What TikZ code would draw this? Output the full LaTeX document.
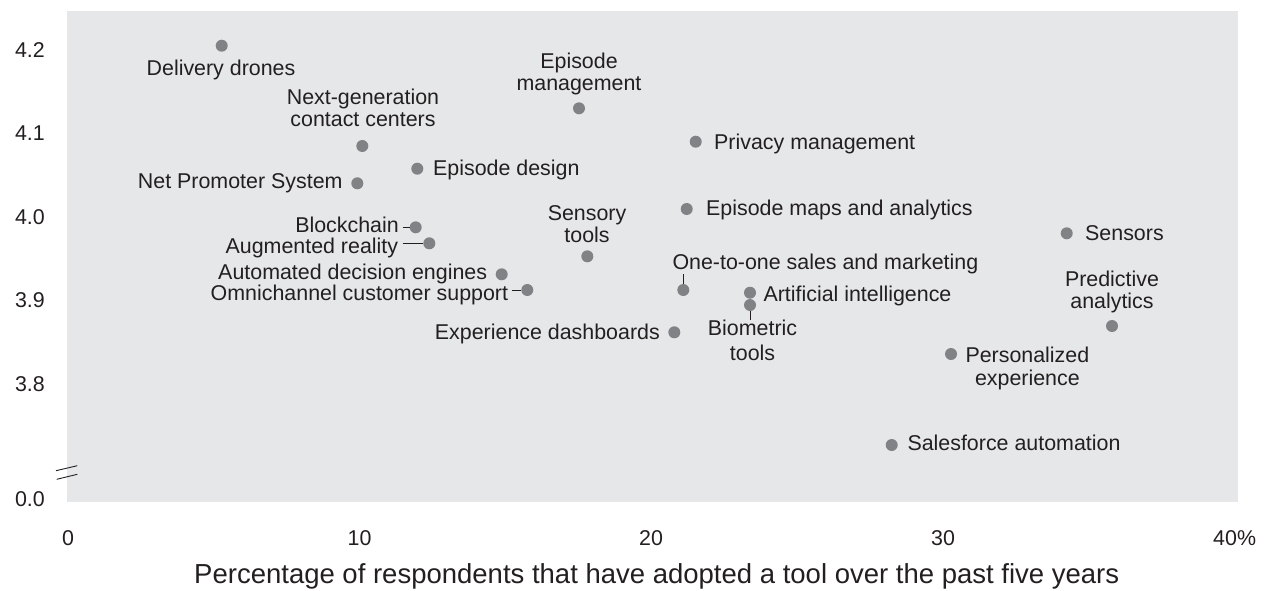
\documentclass[tikz,border=0pt]{standalone}
\usepackage{fontspec}
\setmainfont{Liberation Sans}
\definecolor{bgc}{HTML}{E6E7E8}
\definecolor{dotc}{HTML}{808285}
\definecolor{txtc}{HTML}{231F20}
\begin{document}
\begin{tikzpicture}[x=1pt,y=-1pt,
  dot/.style={circle,fill=dotc,minimum size=12pt,inner sep=0pt},
  lbl/.style={inner sep=0pt,text=txtc,font=\fontsize{21.4}{22}\selectfont},
  ml/.style={lbl,align=center},
  tick/.style={inner sep=0pt,text=txtc,font=\fontsize{21.4}{22}\selectfont},
  axtitle/.style={inner sep=0pt,text=txtc,font=\fontsize{27.5}{30}\selectfont},
  leader/.style={draw=txtc,line width=1pt},
  brk/.style={draw=txtc,line width=0.9pt}]
\useasboundingbox (0,0) rectangle (1265,590);
\fill[bgc] (67,11) rectangle (1238,502);
% axis break
\draw[brk] (56,470.7) -- (77.3,465.7);
\draw[brk] (56.7,479.3) -- (77.3,474.3);
% y ticks
\node[tick,anchor=base east] (y42) at (45,57) {4.2};
\node[tick,anchor=base east] (y41) at (45,140.5) {4.1};
\node[tick,anchor=base east] (y40) at (45,224) {4.0};
\node[tick,anchor=base east] (y39) at (45,307.5) {3.9};
\node[tick,anchor=base east] (y38) at (45,391) {3.8};
\node[tick,anchor=base east] (y00) at (45,506.5) {0.0};
% x ticks
\node[tick,anchor=base] (x0) at (68,545) {0};
\node[tick,anchor=base] (x10) at (359.5,545) {10};
\node[tick,anchor=base] (x20) at (651,545) {20};
\node[tick,anchor=base] (x30) at (943,545) {30};
\node[tick,anchor=base west] (x40) at (1213,545) {40\%};
\node[axtitle,anchor=base] (xt) at (656.7,583) {Percentage of respondents that have adopted a tool over the past five years};
% points and labels
\node[dot] (dd) at (221.7,45.7) {};
\node[lbl,anchor=base] (ddl) at (221,75) {Delivery drones};
\node[dot] (ng) at (362.3,146) {};
\node[ml,anchor=north] (ngl) at (363,88.3) {Next-generation\\contact centers};
\node[dot] (ed) at (417.3,168.7) {};
\node[lbl,anchor=base west] (edl) at (433,175.5) {Episode design};
\node[dot] (nps) at (357.3,183.3) {};
\node[lbl,anchor=base east] (npsl) at (342.7,188.5) {Net Promoter System};
\node[dot] (em) at (579,108.3) {};
\node[ml,anchor=north] (eml) at (579,52.7) {Episode\\management};
\node[dot] (pm) at (695.7,141.7) {};
\node[lbl,anchor=base west] (pml) at (714,149.5) {Privacy management};
\node[dot] (ema) at (686.7,209) {};
\node[lbl,anchor=base west] (emal) at (706,215) {Episode maps and analytics};
\node[dot] (st) at (587.3,256.3) {};
\node[ml,anchor=north] (stl) at (587,205) {Sensory\\tools};
\node[dot] (bc) at (415.7,227.3) {};
\node[lbl,anchor=base east] (bcl) at (399,232.3) {Blockchain};
\draw[leader] ([xshift=3.7pt]bcl.east |- bc.west) -- (bc.west);
\node[dot] (ar) at (429.3,243.3) {};
\node[lbl,anchor=base east] (arl) at (398.3,253) {Augmented reality};
\draw[leader] ([xshift=4.4pt]arl.east |- ar.west) -- (ar.west);
\node[dot] (ade) at (501.7,274.3) {};
\node[lbl,anchor=base east] (adel) at (487.3,279.5) {Automated decision engines};
\node[dot] (oc) at (527.3,290) {};
\node[lbl,anchor=base east] (ocl) at (508.3,300.5) {Omnichannel customer support};
\draw[leader] ([xshift=3.4pt]ocl.east |- oc.west) -- (oc.west);
\node[dot] (exd) at (674.3,332.3) {};
\node[lbl,anchor=base east] (exdl) at (660,339) {Experience dashboards};
\node[dot] (oto) at (683.3,290) {};
\node[lbl,anchor=base west] (otol) at (672.3,269.5) {One-to-one sales and marketing};
\draw[leader] (oto.north) -- (oto.north |- otol.south);
\node[dot] (ai) at (750,292.7) {};
\node[lbl,anchor=base west] (ail) at (763.3,301.5) {Artificial intelligence};
\node[dot] (bio) at (750,305) {};
\node[ml,anchor=north,font=\fontsize{21.4}{25}\selectfont] (biol) at (752.5,320) {Biometric\\tools};
\draw[leader] (bio.south) -- (bio.south |- biol.north);
\node[dot] (sen) at (1066.7,233.3) {};
\node[lbl,anchor=base west] (senl) at (1085,240.5) {Sensors};
\node[dot] (pa) at (1112,326) {};
\node[ml,anchor=north] (pal) at (1112,271) {Predictive\\analytics};
\node[dot] (pe) at (951,354) {};
\node[ml,anchor=north west,font=\fontsize{21.4}{23.3}\selectfont] (pel) at (965.3,346.7) {Personalized\\experience};
\node[dot] (sa) at (891.7,445) {};
\node[lbl,anchor=base west] (sal) at (907.3,450.5) {Salesforce automation};
\end{tikzpicture}
\end{document}
